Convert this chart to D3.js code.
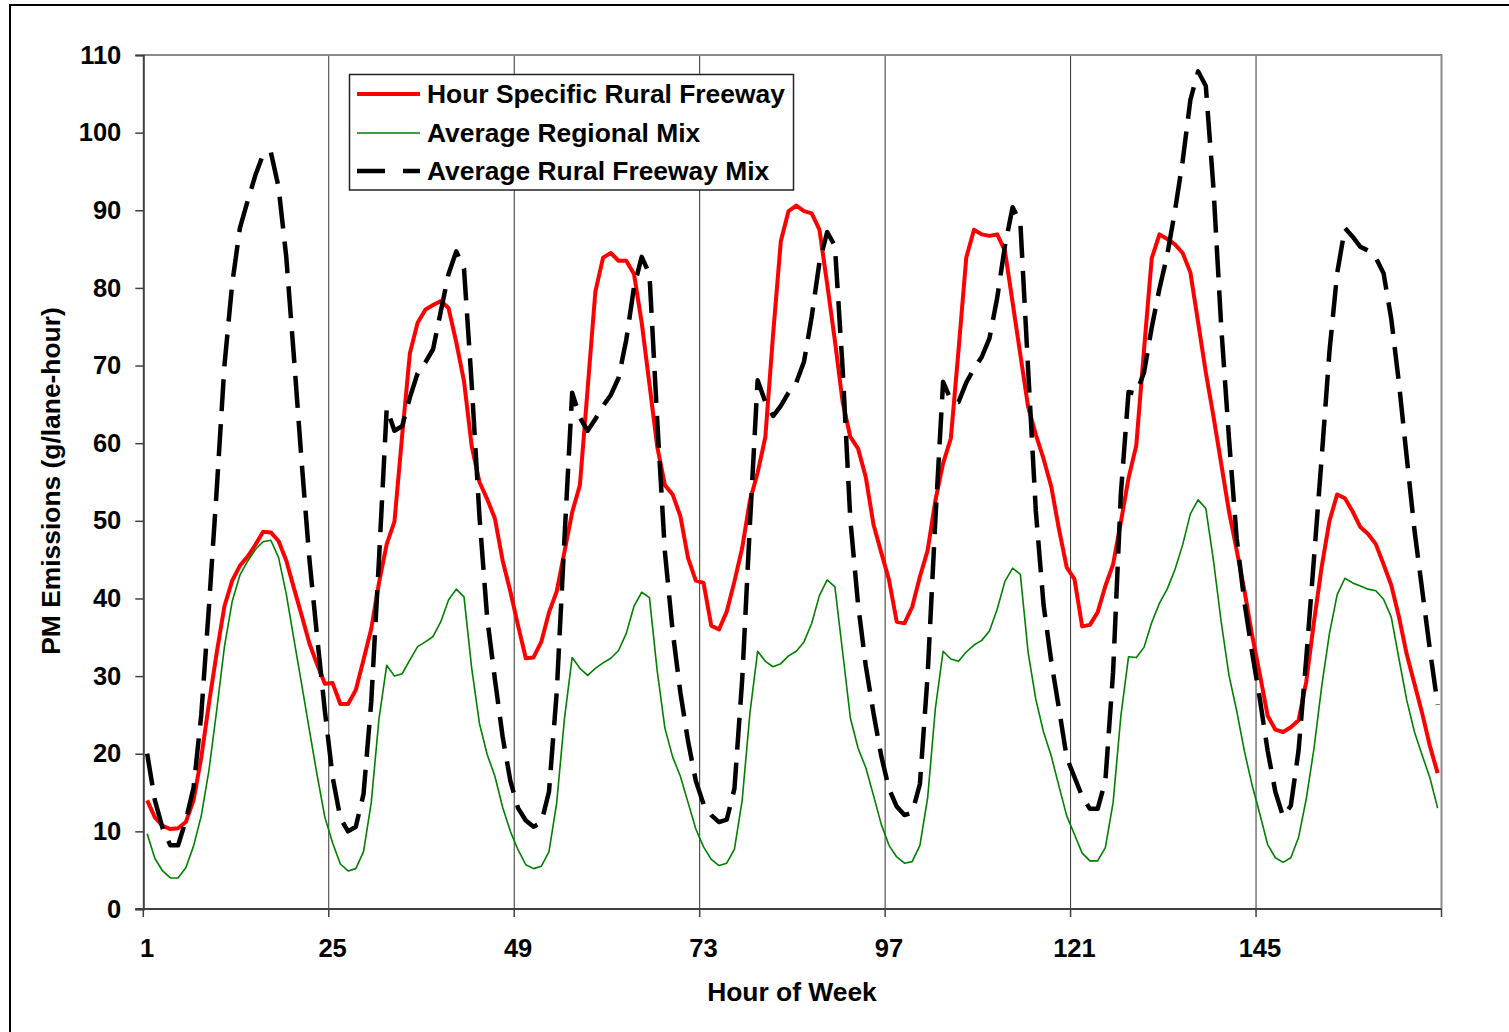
<!DOCTYPE html>
<html>
<head>
<meta charset="utf-8">
<script src="https://cdn.jsdelivr.net/npm/d3@7"></script>
<style>
  body { margin: 0; background: #fff; }
  svg { display: block; }
  text { font-family: "Liberation Sans", Arial, Helvetica, sans-serif; font-weight: bold; fill: #000; }
</style>
</head>
<body>
<svg id="chart" width="1509" height="1032"></svg>
<script>
// Hour of week (1..168)
const hours = d3.range(1, 169);

// PM emissions, g/lane-hour
const hourSpecificRuralFreeway = [
  14.0, 11.8, 10.7, 10.3, 10.4, 11.2, 14.0, 19.5, 26.5, 33.0, 39.0, 42.3, 44.2, 45.4, 46.9, 48.6, 48.5, 47.4, 44.9, 41.3, 37.8, 34.2, 31.5, 29.0,
  29.1, 26.4, 26.4, 28.2, 32.1, 36.1, 42.0, 47.0, 49.9, 61.0, 71.6, 75.5, 77.2, 77.8, 78.3, 77.4, 73.0, 68.0, 59.6, 55.0, 52.8, 50.3, 44.9, 40.9,
  36.5, 32.3, 32.4, 34.4, 38.2, 40.9, 46.0, 51.1, 54.6, 67.0, 79.5, 83.9, 84.5, 83.5, 83.5, 81.8, 75.5, 67.6, 59.6, 54.6, 53.4, 50.6, 45.2, 42.3,
  42.0, 36.5, 36.0, 38.3, 42.2, 46.5, 52.6, 56.2, 60.8, 74.0, 86.0, 89.9, 90.6, 89.9, 89.6, 87.5, 80.5, 73.2, 65.3, 60.8, 59.3, 55.6, 49.5, 45.9,
  42.4, 37.0, 36.8, 38.9, 42.8, 46.2, 52.6, 57.4, 60.6, 72.0, 83.9, 87.5, 86.9, 86.7, 86.9, 84.8, 78.1, 71.4, 64.7, 61.1, 58.0, 54.4, 48.9, 44.0,
  42.5, 36.4, 36.6, 38.2, 41.6, 44.4, 49.8, 55.5, 59.7, 72.0, 83.8, 86.9, 86.3, 85.6, 84.5, 82.0, 75.6, 69.1, 63.4, 57.3, 51.2, 46.2, 41.0, 35.2,
  30.2, 24.9, 23.1, 22.8, 23.4, 24.3, 29.3, 37.0, 44.1, 50.0, 53.4, 52.9, 51.2, 49.2, 48.3, 47.0, 44.4, 41.7, 37.6, 32.8, 29.0, 25.2, 21.0, 17.5
];

const averageRegionalMix = [
   9.7,  6.5,  4.9,  4.0,  4.0,  5.3,  8.1, 12.0, 17.9, 25.6, 33.8, 39.6, 43.0, 44.8, 46.3, 47.3, 47.5, 45.3, 40.6, 34.7, 28.9, 23.0, 17.2, 11.8,
   8.5,  5.8,  4.9,  5.2,  7.4, 13.7, 24.5, 31.4, 30.0, 30.3, 32.1, 33.8, 34.4, 35.1, 37.0, 39.8, 41.2, 40.2, 31.0, 23.9, 19.9, 17.1, 13.1, 10.0,
   7.6,  5.7,  5.2,  5.5,  7.4, 13.7, 24.5, 32.4, 31.0, 30.1, 31.0, 31.7, 32.3, 33.3, 35.5, 39.0, 40.8, 40.1, 30.7, 23.3, 19.6, 17.1, 13.7, 10.3,
   8.0,  6.4,  5.6,  5.9,  7.7, 14.0, 25.2, 33.2, 31.9, 31.2, 31.6, 32.6, 33.2, 34.4, 36.8, 40.4, 42.4, 41.5, 33.1, 24.6, 20.7, 18.2, 14.6, 10.9,
   8.2,  6.7,  5.9,  6.1,  8.2, 14.3, 25.8, 33.2, 32.2, 31.9, 33.1, 34.0, 34.6, 35.8, 38.6, 42.2, 43.9, 43.1, 33.1, 27.0, 22.8, 19.7, 15.8, 12.0,
   9.6,  7.2,  6.2,  6.2,  7.9, 13.7, 24.8, 32.5, 32.4, 33.7, 36.9, 39.4, 41.2, 43.7, 46.9, 50.9, 52.7, 51.6, 44.8, 36.9, 30.1, 25.5, 20.3, 15.9,
  12.2,  8.3,  6.6,  6.0,  6.6,  9.2, 14.2, 20.7, 28.7, 35.5, 40.5, 42.6, 42.0, 41.6, 41.2, 41.0, 39.9, 37.6, 32.2, 26.9, 22.8, 19.8, 16.9, 13.0
];

const averageRuralFreewayMix = [
  20.0, 14.0, 10.4,  8.2,  8.2, 11.4, 15.6, 25.0, 39.0, 54.0, 70.0, 80.5, 87.7, 91.2, 94.5, 97.2, 97.5, 93.0, 84.0, 71.0, 57.5, 45.0, 35.0, 25.5,
  17.0, 11.7, 10.0, 10.6, 14.8, 26.7, 45.0, 64.5, 61.6, 62.2, 65.9, 69.0, 70.4, 72.1, 77.0, 81.8, 84.7, 82.5, 67.6, 50.6, 37.5, 29.6, 22.2, 16.5,
  13.0, 11.4, 10.6, 11.1, 15.1, 27.9, 47.7, 66.5, 63.3, 61.6, 63.1, 64.8, 66.2, 68.4, 73.3, 80.1, 84.0, 81.8, 63.1, 46.0, 35.8, 27.9, 21.6, 16.5,
  13.5, 12.1, 11.2, 11.5, 15.5, 29.5, 49.5, 68.1, 65.3, 63.5, 64.8, 66.5, 67.8, 70.5, 76.3, 83.3, 87.2, 85.4, 69.6, 50.1, 39.2, 31.3, 25.2, 19.7,
  15.5, 13.2, 12.1, 12.4, 16.1, 30.1, 50.1, 67.9, 65.6, 65.3, 67.8, 69.6, 71.1, 73.5, 78.7, 85.4, 90.4, 88.4, 69.6, 51.3, 39.2, 31.9, 25.8, 19.5,
  17.0, 14.5, 12.9, 12.9, 16.5, 30.5, 53.4, 66.6, 66.4, 69.1, 74.9, 79.9, 84.2, 89.9, 96.3, 104.2, 107.9, 106.0, 92.7, 74.9, 60.6, 47.7, 39.5, 33.0,
  27.0, 20.4, 15.1, 11.9, 13.3, 20.4, 32.3, 45.2, 58.2, 71.8, 81.9, 87.7, 86.6, 85.3, 84.8, 83.9, 81.9, 76.0, 67.7, 58.2, 48.8, 41.1, 33.4, 26.3
];

const seriesNames = ["Hour Specific Rural Freeway", "Average Regional Mix", "Average Rural Freeway Mix"];
const yTickValues = [0, 10, 20, 30, 40, 50, 60, 70, 80, 90, 100, 110];
const xTickHours = [1, 25, 49, 73, 97, 121, 145];
const xTitle = "Hour of Week";
const yTitle = "PM Emissions (g/lane-hour)";

const svg = d3.select("#chart");
const plotLeft = 143.3, plotRight = 1441.5, plotTop = 55, plotBottom = 909;

// Category axis: each hour gets a band, points sit at band centres
const x = d3.scaleBand().domain(hours).range([plotLeft, plotRight]).paddingInner(0).paddingOuter(0);
const cx = h => x(h) + x.bandwidth() / 2;
const y = d3.scaleLinear().domain([0, 110]).range([plotBottom, plotTop]);

// Outer chart frame
svg.append("path")
  .attr("d", `M10,1040 L10,5 L1520,5`)
  .attr("fill", "none").attr("stroke", "#000").attr("stroke-width", 2);

// Vertical gridlines at the day boundaries
svg.append("g").selectAll("line")
  .data(xTickHours.slice(1))
  .join("line")
  .attr("x1", d => x(d)).attr("x2", d => x(d))
  .attr("y1", plotTop).attr("y2", plotBottom)
  .attr("stroke", "#333").attr("stroke-width", 1);

// Plot area top and right edges
svg.append("path")
  .attr("d", `M${plotLeft},${plotTop} L${plotRight},${plotTop} L${plotRight},${plotBottom}`)
  .attr("fill", "none").attr("stroke", "#8a8a8a").attr("stroke-width", 2);

// Y axis
const yAxis = d3.axisLeft(y).tickValues(yTickValues).tickSize(8).tickPadding(14);
const gy = svg.append("g").attr("transform", `translate(${plotLeft},0)`).call(yAxis);
gy.select(".domain").attr("stroke", "#404040").attr("stroke-width", 2);
gy.selectAll(".tick line").attr("stroke", "#404040").attr("stroke-width", 1.5);
gy.selectAll(".tick text")
  .attr("font-size", 25.5).attr("font-family", null).attr("fill", "#000");

// X axis: ticks on category boundaries, labels centred on the category
const boundaries = xTickHours.map(h => x(h)).concat([plotRight]);
const gx = svg.append("g");
gx.append("line")
  .attr("x1", plotLeft - 8).attr("x2", plotRight)
  .attr("y1", plotBottom).attr("y2", plotBottom)
  .attr("stroke", "#404040").attr("stroke-width", 2);
gx.selectAll("line.tk")
  .data(boundaries)
  .join("line").attr("class", "tk")
  .attr("x1", d => d).attr("x2", d => d)
  .attr("y1", plotBottom).attr("y2", plotBottom + 8)
  .attr("stroke", "#404040").attr("stroke-width", 1.5);
gx.selectAll("text")
  .data(xTickHours)
  .join("text")
  .attr("x", d => cx(d)).attr("y", 957)
  .attr("text-anchor", "middle")
  .attr("font-size", 25.5)
  .text(d => d);

// Axis titles
svg.append("text")
  .attr("x", 792).attr("y", 1001)
  .attr("text-anchor", "middle").attr("font-size", 26.4)
  .text(xTitle);
svg.append("text")
  .attr("transform", "translate(51,481) rotate(-90)")
  .attr("text-anchor", "middle").attr("dy", "0.35em").attr("font-size", 26.4)
  .text(yTitle);

// Series
const line = d3.line().x((d, i) => cx(hours[i])).y(d => y(d));
const styles = [
  { data: hourSpecificRuralFreeway, color: "#ff0000", width: 4, dash: null },
  { data: averageRegionalMix, color: "#008000", width: 1.6, dash: null },
  { data: averageRuralFreewayMix, color: "#000000", width: 4.5, dash: "32,13" }
];
styles.forEach(s => {
  svg.append("path")
    .datum(s.data)
    .attr("d", line)
    .attr("fill", "none")
    .attr("stroke", s.color)
    .attr("stroke-width", s.width)
    .attr("stroke-linejoin", "round")
    .attr("stroke-dasharray", s.dash);
});

// Legend
const lg = svg.append("g");
lg.append("rect")
  .attr("x", 349.5).attr("y", 74.5).attr("width", 444).attr("height", 115.5)
  .attr("fill", "#fff").attr("stroke", "#222").attr("stroke-width", 1.5);
const rowY = [94, 133, 171];
styles.forEach((s, i) => {
  lg.append("line")
    .attr("x1", 357).attr("x2", 420)
    .attr("y1", rowY[i]).attr("y2", rowY[i])
    .attr("stroke", s.color).attr("stroke-width", s.width)
    .attr("stroke-dasharray", s.dash ? "28,18" : null);
  lg.append("text")
    .attr("x", 427).attr("y", rowY[i]).attr("dy", "0.35em")
    .attr("font-size", 26.4)
    .text(seriesNames[i]);
});
</script>
</body>
</html>
